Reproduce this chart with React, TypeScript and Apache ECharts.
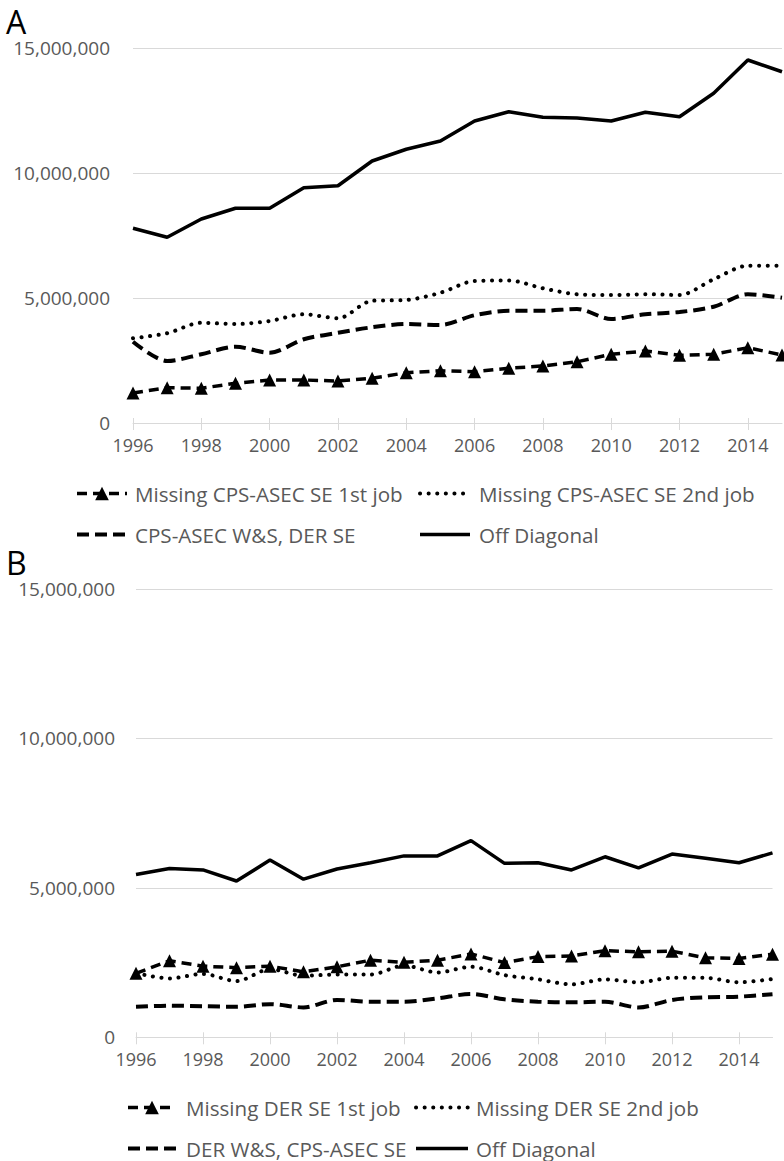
import React, { useEffect, useRef } from "react";
import * as echarts from "echarts";

// Years on the horizontal axis
const years = [
  "1996", "1997", "1998", "1999", "2000", "2001", "2002", "2003", "2004", "2005",
  "2006", "2007", "2008", "2009", "2010", "2011", "2012", "2013", "2014", "2015",
];

// Panel A series
const aFirstJob = [
  1200000, 1410000, 1390000, 1590000, 1720000, 1720000, 1680000, 1790000, 2010000, 2090000,
  2050000, 2190000, 2280000, 2450000, 2750000, 2880000, 2710000, 2750000, 3010000, 2720000,
];
const aSecondJob = [
  3390000, 3590000, 4010000, 3960000, 4080000, 4350000, 4190000, 4890000, 4920000, 5210000,
  5680000, 5700000, 5390000, 5150000, 5120000, 5150000, 5120000, 5750000, 6290000, 6290000,
];
const aWageDerSe = [
  3250000, 2480000, 2750000, 3050000, 2810000, 3350000, 3610000, 3830000, 3960000, 3920000,
  4310000, 4490000, 4490000, 4560000, 4160000, 4350000, 4440000, 4650000, 5150000, 5010000,
];
const aOffDiagonal = [
  7790000, 7430000, 8160000, 8590000, 8590000, 9410000, 9490000, 10480000, 10950000, 11280000,
  12080000, 12450000, 12230000, 12200000, 12080000, 12430000, 12250000, 13190000, 14520000, 14050000,
];

// Panel B series
const bFirstJob = [
  2140000, 2560000, 2380000, 2330000, 2380000, 2190000, 2360000, 2580000, 2510000, 2580000,
  2790000, 2500000, 2700000, 2720000, 2900000, 2860000, 2880000, 2660000, 2640000, 2780000,
];
const bSecondJob = [
  2150000, 1970000, 2120000, 1880000, 2280000, 2060000, 2100000, 2100000, 2400000, 2170000,
  2360000, 2080000, 1940000, 1770000, 1940000, 1840000, 1990000, 1990000, 1840000, 1950000,
];
const bWageCpsSe = [
  1020000, 1060000, 1040000, 1020000, 1110000, 1000000, 1250000, 1190000, 1190000, 1300000,
  1450000, 1270000, 1190000, 1170000, 1190000, 1000000, 1250000, 1340000, 1360000, 1440000,
];
const bOffDiagonal = [
  5450000, 5650000, 5600000, 5230000, 5930000, 5290000, 5630000, 5840000, 6070000, 6070000,
  6580000, 5820000, 5840000, 5600000, 6040000, 5670000, 6130000, 5990000, 5840000, 6170000,
];

const yTicks = { min: 0, max: 15000000, interval: 5000000 };

const FONT = "'Open Sans', 'Noto Sans', sans-serif";
const GRAY = "#595959";
const RULE = "#d9d9d9";

const lines = {
  triangle: { color: "#000", width: 3.5, type: [10, 6] },
  dotted: { color: "#000", width: 4, type: [0.1, 8.5], cap: "round" },
  dashed: { color: "#000", width: 4, type: [12, 6] },
  solid: { color: "#000", width: 3.5 },
};

const styles = {
  triangle: {
    symbol: "triangle",
    symbolSize: 13,
    showSymbol: true,
    lineStyle: lines.triangle,
    itemStyle: { color: "#000" },
  },
  dotted: {
    symbol: "none",
    smooth: 0.3,
    lineStyle: lines.dotted,
    itemStyle: { color: "#000" },
  },
  dashed: {
    symbol: "none",
    smooth: 0.3,
    lineStyle: lines.dashed,
    itemStyle: { color: "#000" },
  },
  solid: {
    symbol: "none",
    lineStyle: lines.solid,
    itemStyle: { color: "#000" },
  },
};

function xAxes(gridIndex: number) {
  return [
    {
      type: "category",
      gridIndex,
      data: years,
      boundaryGap: false,
      position: "bottom",
      axisLine: { lineStyle: { color: RULE, width: 1 } },
      axisTick: { interval: 1, length: 7, lineStyle: { color: RULE } },
      axisLabel: { interval: 1, color: GRAY, fontSize: 18, fontFamily: FONT, margin: 13 },
      splitLine: { show: false },
    },
    {
      // inner half of the crossing tick marks
      type: "category",
      gridIndex,
      data: years,
      boundaryGap: false,
      position: "bottom",
      axisLine: { show: false },
      axisTick: { inside: true, interval: 1, length: 5, lineStyle: { color: RULE } },
      axisLabel: { show: false },
      splitLine: { show: false },
    },
  ];
}

function yAxis(gridIndex: number, margin: number) {
  return {
    type: "value",
    gridIndex,
    ...yTicks,
    axisLine: { show: false },
    axisTick: { show: false },
    splitLine: { lineStyle: { color: RULE, width: 1 } },
    axisLabel: {
      color: GRAY,
      fontSize: 19,
      fontFamily: FONT,
      margin,
      formatter: (v: number) => v.toLocaleString("en-US"),
    },
  };
}

const hidden = { opacity: 0 };

function legend(left: number, top: number, itemWidth: number, gap: number, items: any[]) {
  return {
    left,
    top,
    orient: "vertical",
    padding: 0,
    itemGap: 20,
    itemWidth,
    itemHeight: 17,
    selectedMode: false,
    data: items,
    textStyle: { color: GRAY, fontSize: 20.6, fontFamily: FONT, padding: [0, 0, 0, gap] },
  };
}

// Panel letters, kept on a tight line box
function panelLetter(text: string, top: number) {
  return {
    type: "text",
    left: 6,
    top,
    style: { text, font: `32px ${FONT}`, lineHeight: 24, fill: "#000" },
  };
}

export default function App() {
  const ref = useRef<HTMLDivElement>(null);

  useEffect(() => {
    if (!ref.current) return;
    const chart = echarts.init(ref.current, undefined, { renderer: "svg" });
    chart.setOption({
      animation: false,
      backgroundColor: "#fff",
      grid: [
        { left: 133, right: 2, top: 48, height: 375 },
        { left: 136, right: 11.5, top: 589, height: 448.3 },
      ],
      xAxis: [...xAxes(0), ...xAxes(1)],
      yAxis: [yAxis(0, 23), yAxis(1, 21)],
      legend: [
        legend(75, 483, 50, 3, [
          { name: "Missing CPS-ASEC SE 1st job", lineStyle: lines.triangle },
          { name: "CPS-ASEC W&S, DER SE", lineStyle: lines.dashed, itemStyle: hidden },
        ]),
        legend(418, 483, 50, 4, [
          { name: "Missing CPS-ASEC SE 2nd job", lineStyle: lines.dotted, itemStyle: hidden },
          { name: "Off Diagonal", lineStyle: lines.solid, itemStyle: hidden },
        ]),
        legend(126, 1097, 48, 5, [
          { name: "Missing DER SE 1st job", lineStyle: lines.triangle },
          { name: "DER W&S, CPS-ASEC SE", lineStyle: lines.dashed, itemStyle: hidden },
        ]),
        legend(414, 1097, 52, 3, [
          { name: "Missing DER SE 2nd job", lineStyle: lines.dotted, itemStyle: hidden },
          { name: "Off Diagonal", lineStyle: lines.solid, itemStyle: hidden },
        ]),
      ],
      graphic: [panelLetter("A", 5), panelLetter("B", 546)],
      series: [
        { type: "line", name: "Off Diagonal", xAxisIndex: 0, yAxisIndex: 0, data: aOffDiagonal, ...styles.solid },
        { type: "line", name: "CPS-ASEC W&S, DER SE", xAxisIndex: 0, yAxisIndex: 0, data: aWageDerSe, ...styles.dashed },
        { type: "line", name: "Missing CPS-ASEC SE 2nd job", xAxisIndex: 0, yAxisIndex: 0, data: aSecondJob, ...styles.dotted },
        { type: "line", name: "Missing CPS-ASEC SE 1st job", xAxisIndex: 0, yAxisIndex: 0, data: aFirstJob, ...styles.triangle },
        { type: "line", name: "Off Diagonal", xAxisIndex: 2, yAxisIndex: 1, data: bOffDiagonal, ...styles.solid },
        { type: "line", name: "DER W&S, CPS-ASEC SE", xAxisIndex: 2, yAxisIndex: 1, data: bWageCpsSe, ...styles.dashed },
        { type: "line", name: "Missing DER SE 2nd job", xAxisIndex: 2, yAxisIndex: 1, data: bSecondJob, ...styles.dotted },
        { type: "line", name: "Missing DER SE 1st job", xAxisIndex: 2, yAxisIndex: 1, data: bFirstJob, ...styles.triangle },
      ],
    });
    return () => chart.dispose();
  }, []);

  return (
    <div
      ref={ref}
      style={{ position: "absolute", left: 0, top: 0, width: 784, height: 1161 }}
    />
  );
}
